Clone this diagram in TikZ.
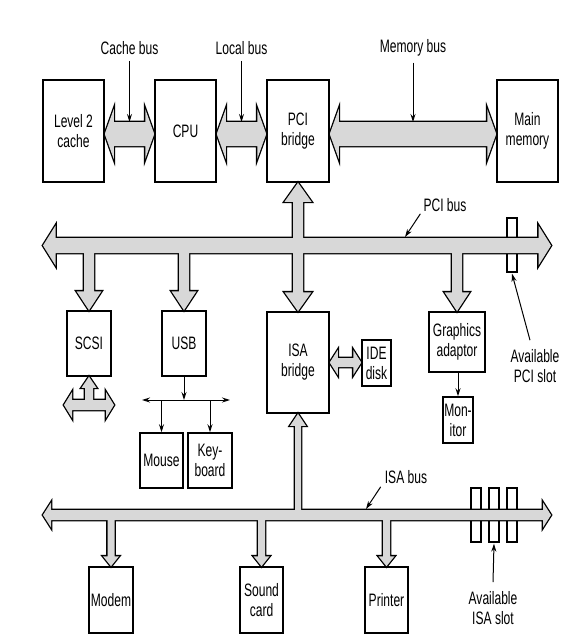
\documentclass[tikz,border=0pt]{standalone}
\usepackage{fontspec}
\setmainfont{Liberation Sans}[FakeStretch=0.67]
\usetikzlibrary{calc,arrows.meta}
\pgfdeclarelayer{bg}
\pgfsetlayers{bg,main}
\definecolor{busgray}{RGB}{216,216,216}
% horizontal double fat arrow: #1 style, #2 left tip, #3 right tip, #4 half body, #5 half head, #6 head length
\newcommand\hdouble[6]{\path[#1] (#2) -- ($(#2)+(#6,-#5)$) -- ($(#2)+(#6,-#4)$) -- ($(#3)+(-#6,-#4)$) -- ($(#3)+(-#6,-#5)$) -- (#3) -- ($(#3)+(-#6,#5)$) -- ($(#3)+(-#6,#4)$) -- ($(#2)+(#6,#4)$) -- ($(#2)+(#6,#5)$) -- cycle;}
% vertical double fat arrow: #2 top tip, #3 bottom tip
\newcommand\vdouble[6]{\path[#1] (#2) -- ($(#2)+(#5,#6)$) -- ($(#2)+(#4,#6)$) -- ($(#3)+(#4,-#6)$) -- ($(#3)+(#5,-#6)$) -- (#3) -- ($(#3)+(-#5,-#6)$) -- ($(#3)+(-#4,-#6)$) -- ($(#2)+(-#4,#6)$) -- ($(#2)+(-#5,#6)$) -- cycle;}
% down branch: #2 tip, #3 shaft length above head, #4 half shaft, #5 half head, #6 head length
\newcommand\vdown[6]{\path[#1] (#2) -- ++(-#5,-#6) -- ++(#5-#4,0) -- ++(0,-#3) -- ++(2*#4,0) -- ++(0,#3) -- ++(#5-#4,0) -- cycle;}
% up branch
\newcommand\vup[6]{\path[#1] (#2) -- ++(-#5,#6) -- ++(#5-#4,0) -- ++(0,#3) -- ++(2*#4,0) -- ++(0,-#3) -- ++(#5-#4,0) -- cycle;}
\begin{document}
\begin{tikzpicture}[x=1pt,y=-1pt,
  box/.style={draw, line width=1.5pt, inner sep=0pt, align=center, font=\fontsize{18}{20}\selectfont},
  slot/.style={draw, line width=1.3pt, inner sep=0pt, minimum width=10pt, minimum height=54pt},
  lbl/.style={inner sep=1pt, align=center, font=\fontsize{18}{20}\selectfont},
  fatout/.style={draw, line width=2.6pt, line join=miter},
  fatfill/.style={fill=busgray},
  tarrow/.style={line width=1pt, -{Stealth[length=8pt,width=5pt]}},
  tline/.style={line width=1pt},
]
\useasboundingbox (0,0) rectangle (587,635);

% boxes
\node[box, minimum width=61pt, minimum height=102pt] (l2) at (73.5,131) {Level 2\\cache};
\node[box, minimum width=61pt, minimum height=102pt] (cpu) at (185.5,131) {CPU};
\node[box, minimum width=62pt, minimum height=102pt] (pcib) at (298,131) {PCI\\bridge};
\node[box, minimum width=61pt, minimum height=102pt] (mem) at (527.5,131) {Main\\memory};
\node[box, minimum width=44pt, minimum height=65pt] (scsi) at (89,343.5) {SCSI};
\node[box, minimum width=44pt, minimum height=65pt] (usb) at (184,343.5) {USB};
\node[box, minimum width=62pt, minimum height=101pt] (isab) at (298,362.5) {ISA\\bridge};
\node[box, minimum width=29pt, minimum height=46pt] (ide) at (376.5,363) {IDE\\disk};
\node[box, minimum width=56pt, minimum height=60pt] (gfx) at (457,342) {Graphics\\adaptor};
\node[box, minimum width=30pt, minimum height=46pt] (mon) at (458,420) {Mon-\\itor};
\node[box, minimum width=43pt, minimum height=55pt] (mouse) at (161.5,460.5) {Mouse};
\node[box, minimum width=44pt, minimum height=55pt] (kbd) at (210,460.5) {Key-\\board};
\node[box, minimum width=44pt, minimum height=66pt] (modem) at (111,600) {Modem};
\node[box, minimum width=43pt, minimum height=66pt] (sound) at (261.5,600) {Sound\\card};
\node[box, minimum width=43pt, minimum height=66pt] (printer) at (386.5,600) {Printer};

% bus end coordinates
\coordinate (cbA) at ($(l2.east)+(0,3)$);
\coordinate (cbB) at ($(cpu.west)+(0,3)$);
\coordinate (lbA) at ($(cpu.east)+(0,3)$);
\coordinate (lbB) at ($(pcib.west)+(0,3)$);
\coordinate (mbA) at ($(pcib.east)+(0,3)$);
\coordinate (mbB) at ($(mem.west)+(0,3)$);
\coordinate (cbM) at ($(cbA)!0.5!(cbB)$);
\coordinate (lbM) at ($(lbA)!0.5!(lbB)$);
\coordinate (mbM) at ($(mbA)!0.5!(mbB)$);
\coordinate (ytop) at (0,48);
\coordinate (pciL) at (43,245.5);
\coordinate (pciR) at (551,245.5);
\coordinate (isaL) at (43,515);
\coordinate (isaR) at (551,515);
\coordinate (scL) at (64,405);
\coordinate (scR) at (114,405);
\coordinate (ideB) at (ide.west |- isab.east);

\newcommand\fatshapes[1]{%
  \hdouble{#1}{cbA}{cbB}{12}{25}{9}
  \hdouble{#1}{lbA}{lbB}{12}{25}{9}
  \hdouble{#1}{mbA}{mbB}{12}{25}{9}
  \hdouble{#1}{pciL}{pciR}{7.5}{20}{12.5}
  \vdouble{#1}{pcib.south}{isab.north}{5}{13.5}{19}
  \vdown{#1}{scsi.north}{47}{5}{12.5}{19}
  \vdown{#1}{usb.north}{47}{5}{12.5}{19}
  \vdown{#1}{gfx.north}{48}{5}{12.5}{19}
  \hdouble{#1}{isaL}{isaR}{5}{12.5}{8}
  \vup{#1}{isab.south}{90}{3}{8}{12}
  \vdown{#1}{modem.north}{42}{3.5}{8}{10}
  \vdown{#1}{sound.north}{42}{3.5}{8}{10}
  \vdown{#1}{printer.north}{42}{3.5}{8}{10}
  \hdouble{#1}{scL}{scR}{5}{13}{8}
  \vup{#1}{scsi.south}{18}{4}{7.5}{11}
  \hdouble{#1}{isab.east}{ideB}{4.5}{12.5}{8}
}

\begin{pgfonlayer}{bg}
  \node[slot] (pcislot) at (512,245) {};
  \node[slot] (isas1) at (476,515) {};
  \node[slot] (isas2) at (494,515) {};
  \node[slot] (isas3) at (512,515) {};
  \fatshapes{fatout}
  \fatshapes{fatfill}
\end{pgfonlayer}

% labels
\node[lbl] (cachel) at (cbM |- ytop) {Cache bus};
\node[lbl] (locall) at (lbM |- ytop) {Local bus};
\node[lbl] (memoryl) at (mbM |- ytop) {Memory bus};
\node[lbl] (pcibusl) at (445,205) {PCI bus};
\node[lbl] (pcislotl) at (535,366) {Available\\PCI slot};
\node[lbl] (isabusl) at (406,477) {ISA bus};
\node[lbl] (isaslotl) at (493,608) {Available\\ISA slot};

% label arrows
\draw[tarrow, shorten <=5pt] (cachel.south) -- ($(cbM)+(0,-12)$);
\draw[tarrow, shorten <=5pt] (locall.south) -- ($(lbM)+(0,-12)$);
\draw[tarrow, shorten <=5pt] (memoryl.south) -- ($(mbM)+(0,-12)$);
\coordinate (pcibusp) at (405,237);
\draw[tarrow] ($(pcibusl.south west)+(-2,1)$) -- (pcibusp);
\coordinate (isabusp) at (366,509);
\draw[tarrow] ($(isabusl.south west)+(-3,2)$) -- (isabusp);
\draw[tarrow] ($(pcislotl.north)+(-5,-8)$) -- ($(pcislot.south)+(0,1)$);
\draw[tarrow] ($(isaslotl.north)+(0,-8)$) -- ($(isas2.south)+(0,1)$);

% USB tree
\coordinate (usbL) at (142,400);
\coordinate (usbR) at (230,400);
\draw[tarrow] (usb.south) -- (usb.south |- usbL);
\draw[tline, {Stealth[length=8pt,width=5pt]}-{Stealth[length=8pt,width=5pt]}] (usbL) -- (usbR);
\draw[tarrow] (mouse.north |- usbL) -- (mouse.north);
\draw[tarrow] (kbd.north |- usbL) -- (kbd.north);

% graphics to monitor
\draw[tarrow] (gfx.south -| mon.north) -- (mon.north);
\end{tikzpicture}
\end{document}
